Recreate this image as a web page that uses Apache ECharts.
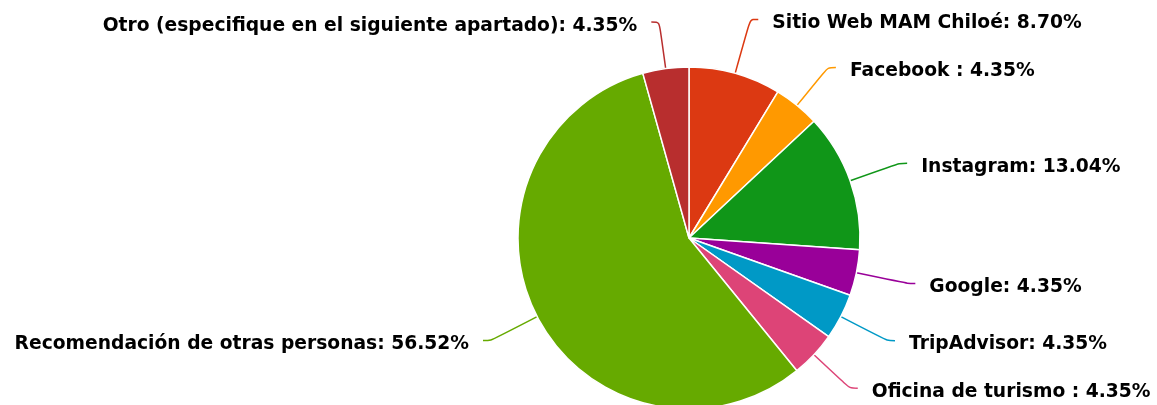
<!DOCTYPE html>
<html>
<head>
<meta charset="utf-8">
<script src="https://cdn.jsdelivr.net/npm/echarts@6/dist/echarts.min.js"></script>
<style>
  html, body { margin: 0; padding: 0; background: #fff; }
  #chart { width: 1157px; height: 405px; }
</style>
</head>
<body>
<div id="chart"></div>
<script>
// categories and shares (%), clockwise from 12 o'clock
const categories = [
  'Sitio Web MAM Chiloé',
  'Facebook ',
  'Instagram',
  'Google',
  'TripAdvisor',
  'Oficina de turismo ',
  'Recomendación de otras personas',
  'Otro (especifique en el siguiente apartado)',
]
const shares = [8.70, 4.35, 13.04, 4.35, 4.35, 4.35, 56.52, 4.35]

const colors = ['#dc3912', '#ff9900', '#109618', '#990099', '#0099c6', '#dd4477', '#66aa00', '#b82e2e']
// connector length per slice
const lineLengths = [56, 49, 52, 52, 52, 49, 52, 47]

const chart = echarts.init(document.getElementById('chart'))

chart.setOption({
  backgroundColor: '#fff',
  animation: false,
  color: colors,
  series: [
    {
      type: 'pie',
      center: [689, 238],
      radius: 171,
      startAngle: 90,
      clockwise: true,
      avoidLabelOverlap: false,
      itemStyle: {
        borderColor: '#fff',
        borderWidth: 1.5,
      },
      label: {
        show: true,
        position: 'outside',
        color: '#000',
        fontFamily: 'DejaVu Sans',
        fontWeight: 'bold',
        fontSize: 18.7,
        bleedMargin: 0,
        overflow: 'none',
        distanceToLabelLine: 14,
        formatter(p) {
          // empty spacer line nudges the text a little below the connector end
          return '{s|}\n{t|' + p.name + ': ' + p.value.toFixed(2) + '%}'
        },
        rich: {
          s: { lineHeight: 8, fontSize: 1 },
          t: {
            color: '#000',
            fontFamily: 'DejaVu Sans',
            fontWeight: 'bold',
            fontSize: 18.7,
            lineHeight: 22,
          },
        },
      },
      labelLine: {
        show: true,
        length: 52,
        length2: 8,
        smooth: 0.3,
        lineStyle: { width: 1.5 },
      },
      data: categories.map((name, i) => ({
        name,
        value: shares[i],
        labelLine: { length: lineLengths[i] },
      })),
    },
  ],
})
</script>
</body>
</html>
